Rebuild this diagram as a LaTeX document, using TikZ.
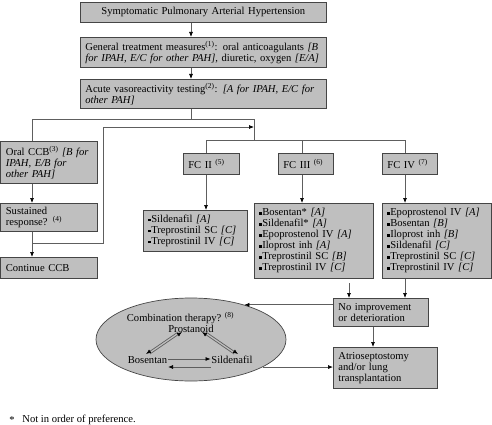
\documentclass[tikz,border=0pt]{standalone}
\usepackage{fontspec}
\setmainfont{Liberation Serif}
\usepackage{xcolor}
\definecolor{panel}{HTML}{BFBFBF}
\definecolor{edge}{HTML}{454545}
\definecolor{wire}{HTML}{5E5E5E}
\usetikzlibrary{arrows.meta,calc,shapes.geometric}
\newcommand{\sqb}{\raisebox{0.28ex}{\rule{2.3pt}{2.3pt}}\kern0.6pt}
\tikzset{
  every picture/.style={font=\fontsize{10.6}{11}\selectfont, line width=0.7pt},
  box/.style={draw=edge, fill=panel, anchor=north west, align=left, inner xsep=5pt, inner ysep=1pt, text width=#1},
  box/.default=86pt,
  wire/.style={draw=wire},
  arrow/.style={wire, -{Latex[length=5pt,width=4pt,color=black]}},
  lbl/.style={inner sep=0.5pt},
}
\begin{document}
\begin{tikzpicture}[x=1pt, y=-1pt]
  \useasboundingbox (0,0) rectangle (492,425);

  \node[box=236pt, align=center, minimum height=20pt] (pah) at (80,2) {Symptomatic Pulmonary Arterial Hypertension};
  \node[box=236pt, minimum height=30pt] (general) at (80,37) {General treatment measures\textsuperscript{(1)}: oral anticoagulants \textit{[B}\\ \textit{for IPAH, E/C for other PAH]}, diuretic, oxygen \textit{[E/A]}};
  \node[box=236pt, minimum height=29pt] (vaso) at (80,79) {Acute vasoreactivity testing\textsuperscript{(2)}: \textit{[A for IPAH, E/C for}\\ \textit{other PAH]}};

  \node[box, minimum height=42pt] (ccb) at (0.5,141) {Oral CCB\textsuperscript{(3)} \textit{[B for}\\ \textit{IPAH, E/B for}\\ \textit{other PAH]}};
  \node[box, minimum height=28pt] (sustained) at (0.5,203) {Sustained\\ response? \textsuperscript{(4)}};
  \node[box, minimum height=21pt] (continue) at (0.5,257) {Continue CCB};

  \node[box=46pt, minimum height=21pt] (fc2) at (183,153) {FC II \textsuperscript{(5)}};
  \node[box=45pt, minimum height=21pt] (fc3) at (278,153) {FC III \textsuperscript{(6)}};
  \node[box=45pt, minimum height=21pt] (fc4) at (382,153) {FC IV \textsuperscript{(7)}};

  \node[box=94pt, minimum height=41pt] (drugs2) at (143,210) {\sqb Sildenafil \textit{[A]}\\ \sqb Treprostinil SC \textit{[C]}\\ \sqb Treprostinil IV \textit{[C]}};
  \node[box=109pt, minimum height=75pt] (drugs3) at (254,203) {\sqb Bosentan* \textit{[A]}\\ \sqb Sildenafil* \textit{[A]}\\ \sqb Epoprostenol IV \textit{[A]}\\ \sqb Iloprost inh \textit{[A]}\\ \sqb Treprostinil SC \textit{[B]}\\ \sqb Treprostinil IV \textit{[C]}};
  \node[box=99pt, minimum height=75pt] (drugs4) at (382,203) {\sqb Epoprostenol IV \textit{[A]}\\ \sqb Bosentan \textit{[B]}\\ \sqb Iloprost inh \textit{[B]}\\ \sqb Sildenafil \textit{[C]}\\ \sqb Treprostinil SC \textit{[C]}\\ \sqb Treprostinil IV \textit{[C]}};

  \node[box=85pt, minimum height=28pt] (noimp) at (333,298) {No improvement\\ or deterioration};
  \node[box=94pt, minimum height=41pt] (atrio) at (333,347) {Atrioseptostomy\\ and/or lung\\ transplantation};

  % combination therapy
  \node[ellipse, draw=edge, fill=panel, minimum width=190pt, minimum height=83pt, inner sep=0pt] (combo) at (191,339.5) {};
  \node[lbl] (combotitle) at (180.5,318) {Combination therapy? \textsuperscript{(8)}};
  \node[lbl] (prost) at (191,329) {Prostanoid};
  \node[lbl] (bos) at (147.5,360) {Bosentan};
  \node[lbl] (sil) at (232,360) {Sildenafil};

  \coordinate (trunk) at (191,119);
  \coordinate (left) at (32,119);
  \coordinate (hub) at (254,140);
  \coordinate (rejoin) at (254,127);
  \coordinate (bend) at (103,243);
  \coordinate (d2) at (206,140);
  \coordinate (d3) at (302,140);
  \coordinate (d4) at (405,140);
  \coordinate (d5) at (373,312);
  \coordinate (gap) at (349,283);

  \draw[arrow] (pah.south -| trunk) -- (general.north -| trunk);
  \draw[arrow] (general.south -| trunk) -- (vaso.north -| trunk);
  \draw[wire] (vaso.south -| trunk) -- (trunk) -- (left) -- (ccb.north -| left);
  \draw[wire] (trunk) -| (hub);
  \draw[arrow] (ccb.south -| left) -- (sustained.north -| left);
  \draw[arrow] (sustained.south -| left) -- (continue.north -| left);
  \draw[arrow] (bend -| left) -- (bend) |- (rejoin);

  \draw[wire] (d2) -- (d4);
  \foreach \d/\f/\l in {d2/fc2/drugs2, d3/fc3/drugs3, d4/fc4/drugs4} {
    \draw[wire] (\d) -- (\d |- \f.north);
    \draw[arrow] (\d |- \f.south) -- (\d |- \l.north);
  }

  \draw[arrow] (gap) -- (gap |- noimp.north);
  \draw[arrow] (d4 |- drugs4.south) -- (d4 |- noimp.north);
  \draw[arrow] (noimp.south -| d5) -- (atrio.north -| d5);
  \draw[arrow] (noimp.west |- combo.33) -- (combo.33);
  \draw[arrow] (combo.339) -- (combo.339 -| atrio.west);

  \draw[arrow] ($(prost)+(-13,3)$) -- ($(bos)+(-1.5,-6)$);
  \draw[arrow] ($(bos)+(2.5,-6)$) -- ($(prost)+(-9,3)$);
  \draw[arrow] ($(sil)+(2,-6)$) -- ($(prost)+(11,3)$);
  \draw[arrow] ($(prost)+(15,3)$) -- ($(sil)+(6,-6)$);
  \draw[arrow] ($(bos.east)+(0,-1)$) -- ($(sil.west)+(0,-1)$);
  \draw[arrow] ($(sil.west)+(0,7)$) -- ($(bos.east)+(0,7)$);

  \node[anchor=west, inner sep=0pt] (star) at (9,420) {*};
  \node[anchor=west, inner sep=0pt] (footnote) at (22,420) {Not in order of preference.};
\end{tikzpicture}
\end{document}
